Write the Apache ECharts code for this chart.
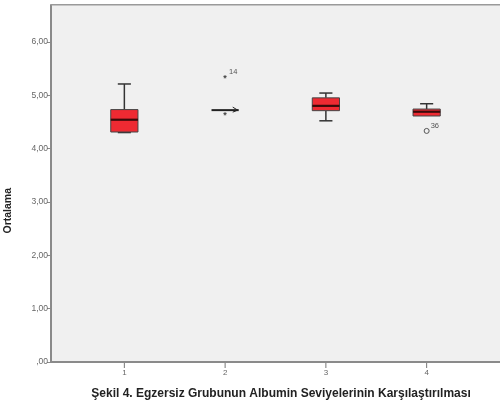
<!DOCTYPE html>
<html><head><meta charset="utf-8">
<script src="https://cdn.jsdelivr.net/npm/echarts@6/dist/echarts.min.js"></script>
<style>html,body{margin:0;padding:0;background:#fff}#c{width:500px;height:405px}</style>
</head><body><div id="c"></div>
<script>
const categories = [1, 2, 3, 4];
const mins    = [4.30, 4.72, 4.52, 4.61];
const q1s     = [4.31, 4.72, 4.71, 4.61];
const medians = [4.54, 4.72, 4.80, 4.69];
const q3s     = [4.73, 4.72, 4.95, 4.74];
const maxs    = [5.21, 4.72, 5.04, 4.84];
const outlierGroup = [2, 2, 4];
const outlierValue = [5.34, 4.63, 4.33];
const outlierSymbol = ['*', '*', 'o'];
const outlierLabel = ['14', '', '36'];
const yTicks = [0, 1, 2, 3, 4, 5, 6];
const yTickLabels = [',00', '1,00', '2,00', '3,00', '4,00', '5,00', '6,00'];
const xTickLabels = ['1', '2', '3', '4'];

const boxData = categories.map((c, i) => [c, mins[i], q1s[i], medians[i], q3s[i], maxs[i]]);
const outData = outlierGroup.map((g, i) => [g, outlierValue[i], outlierSymbol[i], outlierLabel[i]]);

const BOXW = 0.27, CAPW = 0.13;
const chart = echarts.init(document.getElementById('c'), null, {renderer: 'canvas'});
chart.setOption({
  animation: false,
  backgroundColor: '#ffffff',
  grid: {left: 51, top: 5, right: -4, bottom: 43, show: true, backgroundColor: '#f0f0f0', borderWidth: 0},
  xAxis: {
    type: 'value', min: 0.272, max: 4.728, interval: 1,
    splitLine: {show: false},
    axisLine: {show: true, onZero: false, lineStyle: {color: '#8a8a8a', width: 2}},
    axisTick: {show: false},
    axisLabel: {show: false}
  },
  yAxis: {
    type: 'value', min: 0, max: 6.69, interval: 1,
    splitLine: {show: false},
    axisLine: {show: true, lineStyle: {color: '#8a8a8a', width: 2}},
    axisTick: {show: true, length: 4, lineStyle: {color: '#8a8a8a'}, customValues: yTicks},
    axisLabel: {fontSize: 8.5, color: '#666', margin: 3, fontFamily: 'Liberation Sans', customValues: yTicks,
      formatter: v => { const k = yTicks.indexOf(Math.round(v)); return k >= 0 ? yTickLabels[k] : ''; }}
  },
  graphic: [
    {type: 'text', left: 3, top: 188, rotation: Math.PI / 2,
      style: {text: 'Ortalama', font: 'bold 10.5px Liberation Sans', fill: '#222'}},
    {type: 'rect', left: 51, top: 4, shape: {width: 460, height: 1.5}, style: {fill: '#9a9a9a'}, z: 10}
  ],
  title: {
    text: 'Şekil 4. Egzersiz Grubunun Albumin Seviyelerinin Karşılaştırılması',
    left: 276, top: 383, textAlign: 'center',
    textStyle: {fontSize: 12, fontWeight: 'bold', color: '#222', fontFamily: 'Liberation Sans'}
  },
  series: [
    {
      type: 'custom',
      data: categories.map(c => [c, 0]),
      renderItem: (params, api) => {
        const x = api.value(0);
        const p0 = api.coord([x, 0]);
        const i = categories.indexOf(x);
        return {type: 'group', children: [
          {type: 'line', shape: {x1: p0[0], y1: p0[1] + 1, x2: p0[0], y2: p0[1] + 6}, style: {stroke: '#777', lineWidth: 1}},
          {type: 'text', style: {text: xTickLabels[i], x: p0[0], y: p0[1] + 7, textAlign: 'center', font: '8px Liberation Sans', fill: '#666'}}
        ]};
      }
    },
    {
      type: 'custom',
      data: boxData,
      renderItem: (params, api) => {
        const x = api.value(0);
        const pMin = api.coord([x, api.value(1)]);
        const pQ1 = api.coord([x, api.value(2)]);
        const pMed = api.coord([x, api.value(3)]);
        const pQ3 = api.coord([x, api.value(4)]);
        const pMax = api.coord([x, api.value(5)]);
        const half = api.size([BOXW, 0])[0] / 2;
        const cap = api.size([CAPW, 0])[0] / 2;
        const children = [];
        const st = {stroke: '#333', lineWidth: 1.5};
        if (pMax[1] < pQ3[1] - 0.5) {
          children.push({type: 'line', shape: {x1: pMax[0], y1: pMax[1], x2: pQ3[0], y2: pQ3[1]}, style: st});
          children.push({type: 'line', shape: {x1: pMax[0] - cap, y1: pMax[1], x2: pMax[0] + cap, y2: pMax[1]}, style: st});
        }
        if (pMin[1] > pQ1[1] + 0.5) {
          children.push({type: 'line', shape: {x1: pMin[0], y1: pMin[1], x2: pQ1[0], y2: pQ1[1]}, style: st});
          children.push({type: 'line', shape: {x1: pMin[0] - cap, y1: pMin[1], x2: pMin[0] + cap, y2: pMin[1]}, style: st});
        }
        const h = pQ1[1] - pQ3[1];
        if (h > 0.5) {
          children.push({type: 'rect', shape: {x: pQ3[0] - half, y: pQ3[1], width: half * 2, height: h},
            style: {fill: '#ee2a32', stroke: '#444', lineWidth: 1}});
          children.push({type: 'line', shape: {x1: pMed[0] - half, y1: pMed[1], x2: pMed[0] + half, y2: pMed[1]},
            style: {stroke: '#3a0a0a', lineWidth: 2.2}});
        } else {
          children.push({type: 'line', shape: {x1: pMed[0] - half, y1: pMed[1], x2: pMed[0] + half, y2: pMed[1]},
            style: {stroke: '#222', lineWidth: 2}});
          children.push({type: 'polyline', shape: {points: [[pMed[0] + half - 6, pMed[1] - 3], [pMed[0] + half - 1, pMed[1]], [pMed[0] + half - 6, pMed[1] + 2]]},
            style: {stroke: '#222', lineWidth: 1, fill: null}});
        }
        return {type: 'group', children};
      }
    },
    {
      type: 'custom',
      data: outData,
      renderItem: (params, api) => {
        const i = params.dataIndex;
        const p = api.coord([outData[i][0], outData[i][1]]);
        const sym = outData[i][2], lab = outData[i][3];
        const children = [];
        if (sym === 'o') {
          children.push({type: 'circle', shape: {cx: p[0], cy: p[1], r: 2.5}, style: {fill: 'none', stroke: '#555', lineWidth: 1}});
        } else {
          children.push({type: 'text', style: {text: '*', x: p[0], y: p[1] + 1, textAlign: 'center', textVerticalAlign: 'middle', font: 'bold 9px Liberation Sans', fill: '#444'}});
        }
        if (lab) {
          children.push({type: 'text', style: {text: lab, x: p[0] + 4, y: p[1] - 5, textAlign: 'left', textVerticalAlign: 'middle', font: '7.5px Liberation Sans', fill: '#555'}});
        }
        return {type: 'group', children};
      }
    }
  ]
});
</script></body></html>
